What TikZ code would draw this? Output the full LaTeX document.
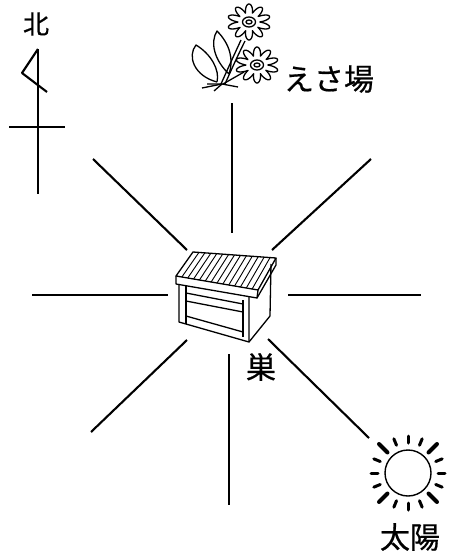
\documentclass[tikz,border=0pt]{standalone}
\usepackage{fontspec}
\newfontfamily\jpfont[FakeBold=0.6]{Noto Sans CJK JP}

\tikzset{
  ray/.style={line width=2.1pt},
  thin line/.style={line width=1.3pt},
  jlabel/.style={font=\jpfont\fontsize{30}{30}\selectfont, inner sep=0pt},
}

\begin{document}
\begin{tikzpicture}[x=1pt, y=-1pt, line join=round]
  \useasboundingbox (0,0) rectangle (449,557);
  % rays round the hive
  \foreach \xa/\ya/\xb/\yb in {232/103/232/233, 229/354/229/505, 32/295/168/295, 288/295/421/295,
                               93/159/187/250, 371/159/272/250, 91/432/187/340, 268/339/369/438} {
    \draw[ray] (\xa,\ya) -- (\xb,\yb);
  }
  % north sign
  \draw[ray] (38,49) -- (38,194);
  \draw[ray] (9,127) -- (65,127);
  \draw[ray] (38,49) -- (22,73) -- (47,92);
  \node[jlabel, font=\jpfont\fontsize{26}{26}\selectfont] (north) at (36,24) {北};
  % hive: lid with slats
  \begin{scope}[thin line]
    \draw[fill=white] (176,276) -- (193,252) -- (276,258) -- (258,290) -- cycle;
    \foreach \i in {1,...,13} {
      \draw[line width=0.9pt] ({193+83*\i/14},{252+6*\i/14}) -- ({176+82*\i/14},{276+14*\i/14});
    }
    \draw (176,276) -- (176,284) -- (257,298) -- (258,290);
    \draw (257,298) -- (276,265) -- (276,258);
    % box body
    \draw (179,284) -- (179,322) -- (249,342) -- (249,297);
    \draw (249,342) -- (270,316) -- (271,264);
    \draw (243,300) -- (243,337);
    \draw (186,286) -- (186,324);
    \draw (186,293) -- (243,304);
    \draw (186,301) -- (243,312);
    \draw (186,316) -- (243,332);
  \end{scope}
  \node[jlabel] (hive) at (261,367) {巣};
  % flowers: leaves and stems first
  \begin{scope}[thin line]
    \draw (217,82) .. controls (194,76) and (187,56) .. (196,45) .. controls (211,54) and (220,70) .. (217,82);
    \draw (229,74) .. controls (214,60) and (210,42) .. (217,31) .. controls (230,44) and (234,60) .. (229,74);
    \draw (221,84) .. controls (229,66) and (235,53) .. (241,40);
    \draw (225,84) .. controls (233,66) and (239,53) .. (245,41);
    \draw (223,84) -- (244,72);
    \draw (202,88) -- (222,84) -- (238,87);
    \draw (207,84) -- (222,84) -- (214,91);
    \foreach \cx/\cy in {249/22, 257/65} {
      \draw[fill=white, shift={(\cx,\cy)}, xscale=1.2]
        plot[domain=0:357, samples=150] (\x:{9+9*abs(sin(5*\x))}) -- cycle;
      \draw (\cx,\cy) ellipse (6.5 and 5);
      \draw (\cx,\cy) ellipse (3 and 2);
    }
  \end{scope}
  \node[jlabel] (feed) at (329,79) {えさ場};
  % sun
  \draw[line width=1.4pt] (408,473) circle (23);
  \foreach \a in {45,135,225,315} {
    \draw[line width=4pt, line cap=round] (408,473) ++(\a:29) -- ++(\a:12);
  }
  \foreach \a in {0,22.5,67.5,90,112.5,157.5,180,202.5,247.5,270,292.5,337.5} {
    \draw[line width=3pt, line cap=round] (408,473) ++(\a:30) -- ++(\a:7);
  }
  \node[jlabel] (sun) at (410,537) {太陽};
\end{tikzpicture}
\end{document}
